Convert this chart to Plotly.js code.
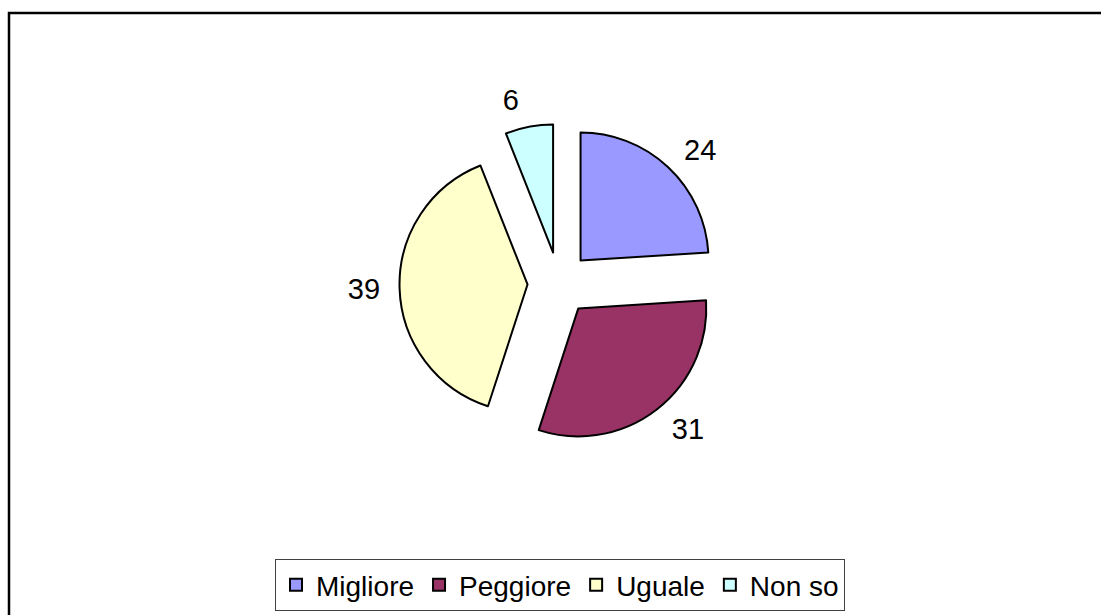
<!DOCTYPE html>
<html>
<head>
<meta charset="utf-8">
<script src="https://cdn.plot.ly/plotly-3.0.1.min.js"></script>
<style>
html,body{margin:0;padding:0;background:#fff;}
#chart{width:1101px;height:615px;}
</style>
</head>
<body>
<div id="chart"></div>
<script>
const categories = ["Migliore", "Peggiore", "Uguale", "Non so"];
const values = [24, 31, 39, 6];
const colors = ["#9999FF", "#993366", "#FFFFCC", "#CCFFFF"];

const W = 1101, H = 615;
const cx = 559, cy = 283.5, half = 159.5, halfText = 171;

function dom(h) {
  return { x: [(cx - h) / W, (cx + h) / W], y: [1 - (cy + h) / H, 1 - (cy - h) / H] };
}

const pieTrace = {
  type: "pie",
  labels: categories,
  values: values,
  sort: false,
  direction: "clockwise",
  rotation: 0,
  pull: values.map(() => 0.246),
  marker: { colors: colors, line: { color: "#000000", width: 2 } },
  textinfo: "none",
  domain: dom(half),
  hoverinfo: "label+value"
};

// same data, transparent, slightly larger: carries the outside value labels
const labelTrace = {
  type: "pie",
  labels: categories,
  values: values,
  sort: false,
  direction: "clockwise",
  rotation: 0,
  pull: values.map(() => 0.246),
  marker: { colors: values.map(() => "rgba(0,0,0,0)"), line: { width: 0 } },
  textinfo: "value",
  textposition: "outside",
  outsidetextfont: { family: "Liberation Sans, Arial, sans-serif", size: 29, color: "#000" },
  domain: dom(halfText),
  showlegend: false,
  hoverinfo: "skip"
};

const layout = {
  width: W, height: H,
  margin: { l: 0, r: 0, t: 0, b: 0 },
  paper_bgcolor: "#ffffff",
  font: { family: "Liberation Sans, Arial, sans-serif", size: 28, color: "#000" },
  showlegend: true,
  legend: {
    orientation: "h",
    x: 560 / W, xanchor: "center",
    y: 1 - 611 / H, yanchor: "bottom",
    bordercolor: "#404040", borderwidth: 1,
    bgcolor: "#ffffff",
    font: { size: 28, color: "#000" },
    itemwidth: 30,
    traceorder: "normal"
  },
  shapes: [{
    type: "rect", xref: "paper", yref: "paper",
    x0: 9 / W, x1: 1.02, y0: -0.02, y1: 1 - 13 / H,
    line: { color: "#000", width: 2.5 }, fillcolor: "rgba(0,0,0,0)"
  }]
};

Plotly.newPlot("chart", [pieTrace, labelTrace], layout, { displayModeBar: false, staticPlot: true });
</script>
</body>
</html>
